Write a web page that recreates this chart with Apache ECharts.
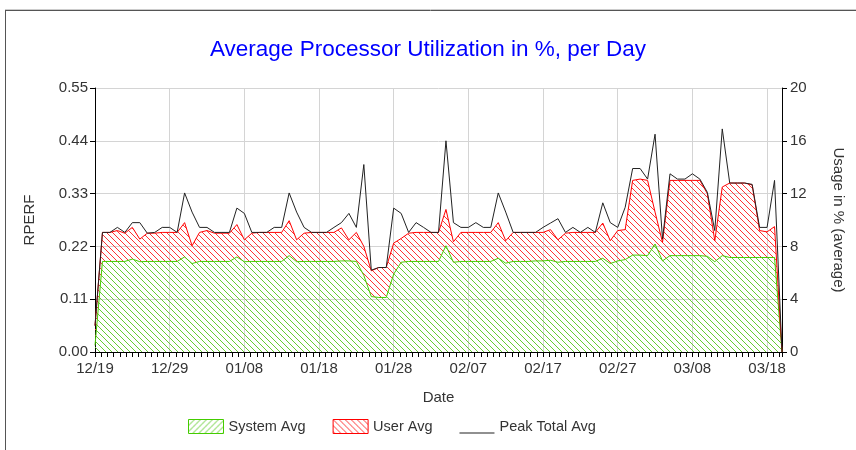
<!DOCTYPE html>
<html>
<head>
<meta charset="utf-8">
<script src="https://cdn.jsdelivr.net/npm/echarts@6/dist/echarts.min.js"></script>
<style>
  html, body { margin: 0; padding: 0; background: #fff; }
  #Chart { width: 856px; height: 450px; }
</style>
</head>
<body>
<div id="Chart"></div>
<script>
// x axis labels, one every 10 days (day 0 = 12/19)
var dateLabels = ['12/19', '12/29', '01/08', '01/18', '01/28', '02/07', '02/17', '02/27', '03/08', '03/18'];

// daily values in % (one entry per day, 12/19 .. 03/20)
var systemAvg = [
    0.5, 6.86, 6.86, 6.86, 6.86, 7.04, 6.84, 6.86, 6.86, 6.86,
    6.86, 6.86, 7.2, 6.7, 6.86, 6.86, 6.86, 6.86, 6.86, 7.2,
    6.84, 6.86, 6.86, 6.86, 6.86, 6.86, 7.3, 6.84, 6.86, 6.86,
    6.86, 6.86, 6.86, 6.9, 6.9, 6.86, 5.8, 4.2, 4.13, 4.13,
    5.9, 6.8, 6.86, 6.86, 6.86, 6.86, 6.86, 8.05, 6.8, 6.86,
    6.86, 6.86, 6.86, 6.86, 7.1, 6.73, 6.86, 6.86, 6.86, 6.9,
    6.9, 6.95, 6.8, 6.86, 6.86, 6.86, 6.86, 6.86, 7.1, 6.7,
    6.9, 7.0, 7.34, 7.34, 7.3, 8.18, 6.9, 7.3, 7.3, 7.3,
    7.3, 7.3, 7.25, 6.84, 7.3, 7.16, 7.16, 7.16, 7.16, 7.16,
    7.16, 7.16, 0
];
var userAvg = [
    1.5, 2.2, 2.2, 2.34, 2.14, 2.4, 1.71, 2.14, 2.14, 2.2,
    2.2, 2.2, 2.6, 1.35, 2.2, 2.34, 2.14, 2.14, 2.14, 2.45,
    1.66, 2.14, 2.2, 2.2, 2.2, 2.2, 2.65, 1.66, 2.14, 2.2,
    2.2, 2.2, 2.2, 2.5, 1.6, 2.2, 2.2, 1.95, 2.27, 2.27,
    2.35, 1.8, 2.14, 2.2, 2.2, 2.2, 2.2, 2.75, 1.55, 2.2,
    2.2, 2.2, 2.2, 2.2, 2.7, 1.7, 2.2, 2.2, 2.2, 2.16,
    2.16, 2.32, 1.7, 2.14, 2.2, 2.2, 2.2, 2.2, 2.67, 1.73,
    2.3, 2.27, 5.66, 5.76, 5.7, 2.42, 1.4, 5.7, 5.7, 5.7,
    5.7, 5.7, 4.75, 1.59, 5.2, 5.64, 5.64, 5.64, 5.5, 2.04,
    1.94, 2.34, 0
];
var peakTotalAvg = [
    2.0, 9.06, 9.06, 9.44, 9.06, 9.8, 9.8, 9.0, 9.06, 9.44,
    9.44, 9.06, 12.05, 10.6, 9.44, 9.44, 9.06, 9.06, 9.06, 10.9,
    10.5, 9.06, 9.06, 9.06, 9.44, 9.44, 12.05, 10.6, 9.44, 9.06,
    9.06, 9.06, 9.44, 9.8, 10.5, 9.44, 14.2, 6.2, 6.4, 6.4,
    10.9, 10.5, 9.06, 9.8, 9.44, 9.06, 9.06, 16.0, 9.8, 9.44,
    9.44, 9.8, 9.44, 9.44, 12.05, 10.6, 9.06, 9.06, 9.06, 9.06,
    9.44, 9.77, 10.1, 9.06, 9.44, 9.06, 9.44, 9.06, 11.3, 9.8,
    9.44, 10.96, 13.9, 13.9, 13.1, 16.5, 8.55, 13.5, 13.1, 13.1,
    13.5, 13.1, 12.1, 9.2, 16.9, 12.8, 12.8, 12.8, 12.7, 9.44,
    9.44, 13.0, 0
];

// one category per day
var days = systemAvg.map(function (v, i) { return String(i); });

// hatch pattern tile
function hatch(color, dir) {
    var c = document.createElement('canvas');
    c.width = 6;
    c.height = 6;
    var ctx = c.getContext('2d');
    ctx.strokeStyle = color;
    ctx.lineWidth = 1;
    ctx.beginPath();
    if (dir === '/') {
        ctx.moveTo(0, 6); ctx.lineTo(6, 0);
        ctx.moveTo(-1, 1); ctx.lineTo(1, -1);
        ctx.moveTo(5, 7); ctx.lineTo(7, 5);
    } else {
        ctx.moveTo(0, 0); ctx.lineTo(6, 6);
        ctx.moveTo(5, -1); ctx.lineTo(7, 1);
        ctx.moveTo(-1, 5); ctx.lineTo(1, 7);
    }
    ctx.stroke();
    return { type: 'pattern', image: c, repeat: 'repeat' };
}

var font = 'Liberation Sans, Arial, sans-serif';

var myChart = echarts.init(document.getElementById('Chart'));
var option = {
    animation: false,
    title: {
        text: 'Average Processor Utilization in %, per Day',
        left: 'center',
        top: 33,
        textStyle: { color: '#0000ff', fontFamily: font, fontSize: 22.5, fontWeight: 'normal' }
    },
    graphic: [
        { type: 'line', shape: { x1: 5, y1: 9.5, x2: 856, y2: 9.5 }, style: { stroke: '#cccccc', lineWidth: 1 } },
        { type: 'line', shape: { x1: 5, y1: 10.5, x2: 856, y2: 10.5 }, style: { stroke: '#555555', lineWidth: 1 } },
        { type: 'line', shape: { x1: 5.5, y1: 10, x2: 5.5, y2: 450 }, style: { stroke: '#555555', lineWidth: 1 } }
    ],
    legend: {
        left: 188,
        top: 419,
        padding: 0,
        itemWidth: 35,
        itemHeight: 14,
        itemGap: 27,
        textStyle: { color: '#333', fontFamily: font, fontSize: 14.5 },
        data: [
            { name: 'System Avg', icon: 'rect', itemStyle: { color: hatch('#66cc33', '/'), borderColor: '#44cc00', borderWidth: 1 } },
            { name: 'User Avg', icon: 'rect', itemStyle: { color: hatch('#ff3333', '\\'), borderColor: '#ff0000', borderWidth: 1 } },
            { name: 'Peak Total Avg', icon: 'path://M0,0h0.01v0.01h-0.01zM0,13h35v1h-35z', itemStyle: { color: '#222', borderWidth: 0 } }
        ]
    },
    grid: { left: 95, right: 74, top: 88, bottom: 98 },
    xAxis: [
        {
            // category axis carrying the daily data
            type: 'category',
            data: days,
            boundaryGap: false,
            axisLine: { lineStyle: { color: '#000' } },
            axisTick: { show: false },
            axisLabel: { show: false },
            splitLine: { show: false }
        },
        {
            // value axis (days since 12/19) for labels, ticks and gridlines
            type: 'value',
            position: 'bottom',
            min: 0,
            max: 92,
            interval: 10,
            name: 'Date',
            nameLocation: 'middle',
            nameGap: 38,
            nameTextStyle: { color: '#333', fontFamily: font, fontSize: 15 },
            axisLine: { show: false },
            axisTick: { show: true, length: 5, lineStyle: { color: '#000' } },
            minorTick: { show: true, splitNumber: 12, length: 5, lineStyle: { color: '#000' } },
            axisLabel: {
                margin: 9,
                color: '#333',
                fontFamily: font,
                fontSize: 15,
                formatter: function (v) {
                    return v % 10 === 0 ? (dateLabels[v / 10] || '') : '';
                }
            },
            splitLine: { show: true, lineStyle: { color: '#d4d4d4' } }
        }
    ],
    yAxis: [
        {
            type: 'value',
            min: 0,
            max: 0.55,
            interval: 0.11,
            name: 'RPERF',
            nameLocation: 'middle',
            nameGap: 58,
            nameTextStyle: { color: '#333', fontFamily: font, fontSize: 15 },
            axisLine: { show: true, lineStyle: { color: '#000' } },
            axisTick: { show: true, length: 5, lineStyle: { color: '#000' } },
            axisLabel: {
                margin: 7, color: '#333', fontFamily: font, fontSize: 15,
                formatter: function (v) { return v.toFixed(2); }
            },
            splitLine: { show: true, lineStyle: { color: '#d4d4d4' } }
        },
        {
            type: 'value',
            min: 0,
            max: 20,
            interval: 4,
            name: 'Usage in % (average)',
            nameLocation: 'middle',
            nameGap: 49,
            nameRotate: -90,
            nameTextStyle: { color: '#333', fontFamily: font, fontSize: 15 },
            axisLine: { show: true, lineStyle: { color: '#000' } },
            axisTick: { show: true, length: 5, lineStyle: { color: '#000' } },
            axisLabel: { margin: 8, color: '#333', fontFamily: font, fontSize: 15 },
            splitLine: { show: false }
        }
    ],
    series: [
        {
            name: 'System Avg',
            type: 'line',
            yAxisIndex: 1,
            stack: 'usage',
            symbol: 'none',
            z: 2,
            itemStyle: { color: '#44cc00' },
            lineStyle: { color: '#44cc00', width: 1 },
            // "/" tiles render grey in the area here, so the area uses a "\" tile
            areaStyle: { color: hatch('#66cc33', '\\'), opacity: 1 },
            data: systemAvg
        },
        {
            name: 'User Avg',
            type: 'line',
            yAxisIndex: 1,
            stack: 'usage',
            symbol: 'none',
            z: 2,
            itemStyle: { color: '#ff0000' },
            lineStyle: { color: '#ff0000', width: 1 },
            areaStyle: { color: hatch('#ff3333', '\\'), opacity: 1 },
            data: userAvg
        },
        {
            name: 'Peak Total Avg',
            type: 'line',
            yAxisIndex: 1,
            symbol: 'none',
            z: 3,
            itemStyle: { color: '#222' },
            lineStyle: { color: '#222', width: 1 },
            data: peakTotalAvg
        }
    ]
};
myChart.setOption(option);
</script>
</body>
</html>
